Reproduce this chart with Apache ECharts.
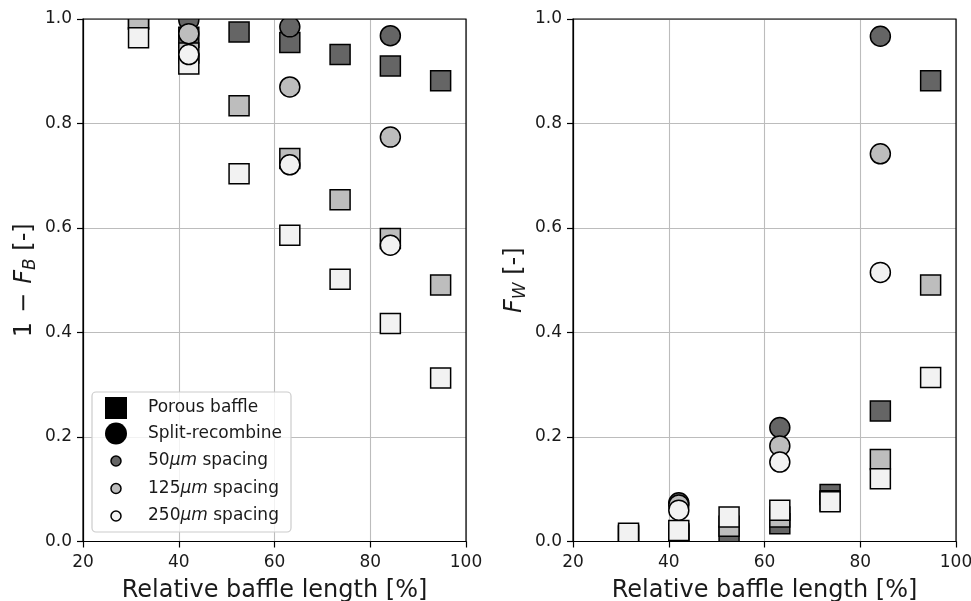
<!DOCTYPE html>
<html>
<head>
<meta charset="utf-8">
<script src="https://cdn.jsdelivr.net/npm/echarts@6/dist/echarts.min.js"></script>
<style>
  html, body { margin: 0; padding: 0; background: #ffffff; }
  #chart { width: 971px; height: 601px; }
</style>
</head>
<body>
<div id="chart"></div>
<script>
// Relative baffle length [%] at which each geometry was evaluated
const baffleLength = [31.6, 42.1, 52.6, 63.2, 73.7, 84.2, 94.7];
const splitLength = [42.1, 63.2, 84.2];

// 1 - F_B, porous baffle (50 / 125 / 250 um spacing)
const porous50Bypass = [1.0, 0.965, 0.975, 0.955, 0.932, 0.910, 0.882];
const porous125Bypass = [1.0, 0.935, 0.834, 0.733, 0.654, 0.580, 0.491];
const porous250Bypass = [0.964, 0.914, 0.704, 0.586, 0.502, 0.417, 0.313];
// 1 - F_B, split-recombine
const split50Bypass = [0.998, 0.985, 0.968];
const split125Bypass = [0.972, 0.870, 0.774];
const split250Bypass = [0.932, 0.721, 0.567];

// F_W, porous baffle
const porous50Wall = [0.010, 0.012, 0.010, 0.034, 0.090, 0.250, 0.882];
const porous125Wall = [0.012, 0.015, 0.029, 0.047, 0.078, 0.157, 0.491];
const porous250Wall = [0.016, 0.021, 0.047, 0.060, 0.076, 0.120, 0.314];
// F_W, split-recombine
const split50Wall = [0.074, 0.218, 0.967];
const split125Wall = [0.070, 0.183, 0.742];
const split250Wall = [0.060, 0.152, 0.515];

// Axis ranges and tick spacing
const xRange = [20, 100];
const xStep = 20;
const yRange = [0, 1];
const yStep = 0.2;

const legendLabels = ['Porous baffle', 'Split-recombine', '50{it|μm} spacing', '125{it|μm} spacing', '250{it|μm} spacing'];

const FONT = 'DejaVu Sans';
const TEXT = '#1a1a1a';
const SHADES = ['#656565', '#bdbdbd', '#f2f2f2'];
const MARK = 20;

function markerSeries(panel, xs, ys, shape, fill) {
  return {
    type: 'custom',
    xAxisIndex: panel,
    yAxisIndex: panel,
    clip: true,
    silent: true,
    animation: false,
    encode: { x: 0, y: 1 },
    data: xs.map((x, i) => [x, ys[i]]),
    renderItem(params, api) {
      const c = api.coord([api.value(0), api.value(1)]);
      const style = { fill: fill, stroke: '#000', lineWidth: 1.5 };
      if (shape === 'square') {
        return { type: 'rect', shape: { x: c[0] - MARK / 2, y: c[1] - MARK / 2, width: MARK, height: MARK }, style };
      }
      return { type: 'circle', shape: { cx: c[0], cy: c[1], r: MARK / 2 }, style };
    }
  };
}

const nameRich = {
  it: { fontStyle: 'italic', fontSize: 24, fontFamily: FONT, color: TEXT },
  op: { fontSize: 24, fontFamily: FONT, color: TEXT, padding: [0, 9, 0, 9] },
  sub: { fontStyle: 'italic', fontSize: 17, fontFamily: FONT, color: TEXT, padding: [12, 0, 0, 0] }
};

function xAxisFor(panel) {
  return {
    gridIndex: panel, type: 'value', min: xRange[0], max: xRange[1], interval: xStep,
    name: 'Relative baffle length [%]', nameLocation: 'middle', nameGap: 37,
    nameTextStyle: { fontSize: 24, fontFamily: FONT, color: TEXT },
    axisLine: { show: true, onZero: false, lineStyle: { color: '#000', width: 1.2 } },
    axisTick: { show: true, inside: false, length: 6, lineStyle: { color: '#000', width: 1.2 } },
    axisLabel: { color: TEXT, fontSize: 17, fontFamily: FONT, margin: 13 },
    splitLine: { show: true, lineStyle: { color: '#bcbcbc', width: 1.1 } }
  };
}

function yAxisFor(panel, label) {
  return {
    gridIndex: panel, type: 'value', min: yRange[0], max: yRange[1], interval: yStep,
    name: label, nameLocation: 'middle', nameGap: 44, nameRotate: 90,
    nameTextStyle: { fontSize: 24, fontFamily: FONT, color: TEXT, rich: nameRich },
    axisLine: { show: true, onZero: false, lineStyle: { color: '#000', width: 1.2 } },
    axisTick: { show: true, inside: false, length: 6, lineStyle: { color: '#000', width: 1.2 } },
    axisLabel: { color: TEXT, fontSize: 17, fontFamily: FONT, margin: 11, formatter: v => v.toFixed(1) },
    splitLine: { show: true, lineStyle: { color: '#bcbcbc', width: 1.1 } }
  };
}

// Legend box drawn as graphics
const legendX = 92, legendY = 392;
const rowY = [408, 433.5, 461, 488.5, 516];
const legendElements = [
  { type: 'rect', z: 10, shape: { x: legendX, y: legendY, width: 199, height: 140, r: 4 }, style: { fill: 'rgba(255,255,255,0.8)', stroke: '#cccccc', lineWidth: 1.2 } },
  { type: 'rect', z: 11, shape: { x: 105, y: rowY[0] - 11, width: 22, height: 22 }, style: { fill: '#000' } },
  { type: 'circle', z: 11, shape: { cx: 116, cy: rowY[1], r: 11 }, style: { fill: '#000' } }
];
SHADES.forEach((c, i) => {
  legendElements.push({ type: 'circle', z: 11, shape: { cx: 116, cy: rowY[2 + i], r: 5 }, style: { fill: c, stroke: '#000', lineWidth: 1.5 } });
});
legendLabels.forEach((t, i) => {
  legendElements.push({
    type: 'text',
    z: 11,
    style: {
      text: t, x: 148, y: rowY[i], verticalAlign: 'middle', align: 'left',
      fontSize: 17, fontFamily: FONT, fill: TEXT,
      rich: { it: { fontStyle: 'italic', fontSize: 17, fontFamily: FONT, fill: TEXT } }
    }
  });
});

const option = {
  animation: false,
  backgroundColor: '#ffffff',
  grid: [
    { left: 83, top: 19, width: 383, height: 522.5, show: true, borderColor: '#000', borderWidth: 1.2, backgroundColor: 'transparent', z: 3, outerBoundsMode: 'none' },
    { left: 573, top: 19, width: 383, height: 522.5, show: true, borderColor: '#000', borderWidth: 1.2, backgroundColor: 'transparent', z: 3, outerBoundsMode: 'none' }
  ],
  xAxis: [xAxisFor(0), xAxisFor(1)],
  yAxis: [
    yAxisFor(0, '1{op|−}{it|F}{sub|B} [-]'),
    yAxisFor(1, '{it|F}{sub|W} [-]')
  ],
  series: [
    markerSeries(0, baffleLength, porous50Bypass, 'square', SHADES[0]),
    markerSeries(0, baffleLength, porous125Bypass, 'square', SHADES[1]),
    markerSeries(0, baffleLength, porous250Bypass, 'square', SHADES[2]),
    markerSeries(0, splitLength, split50Bypass, 'circle', SHADES[0]),
    markerSeries(0, splitLength, split125Bypass, 'circle', SHADES[1]),
    markerSeries(0, splitLength, split250Bypass, 'circle', SHADES[2]),
    markerSeries(1, baffleLength, porous50Wall, 'square', SHADES[0]),
    markerSeries(1, baffleLength, porous125Wall, 'square', SHADES[1]),
    markerSeries(1, baffleLength, porous250Wall, 'square', SHADES[2]),
    markerSeries(1, splitLength, split50Wall, 'circle', SHADES[0]),
    markerSeries(1, splitLength, split125Wall, 'circle', SHADES[1]),
    markerSeries(1, splitLength, split250Wall, 'circle', SHADES[2])
  ],
  graphic: { elements: legendElements }
};

const chart = echarts.init(document.getElementById('chart'), null, { renderer: 'canvas' });
chart.setOption(option);
</script>
</body>
</html>
